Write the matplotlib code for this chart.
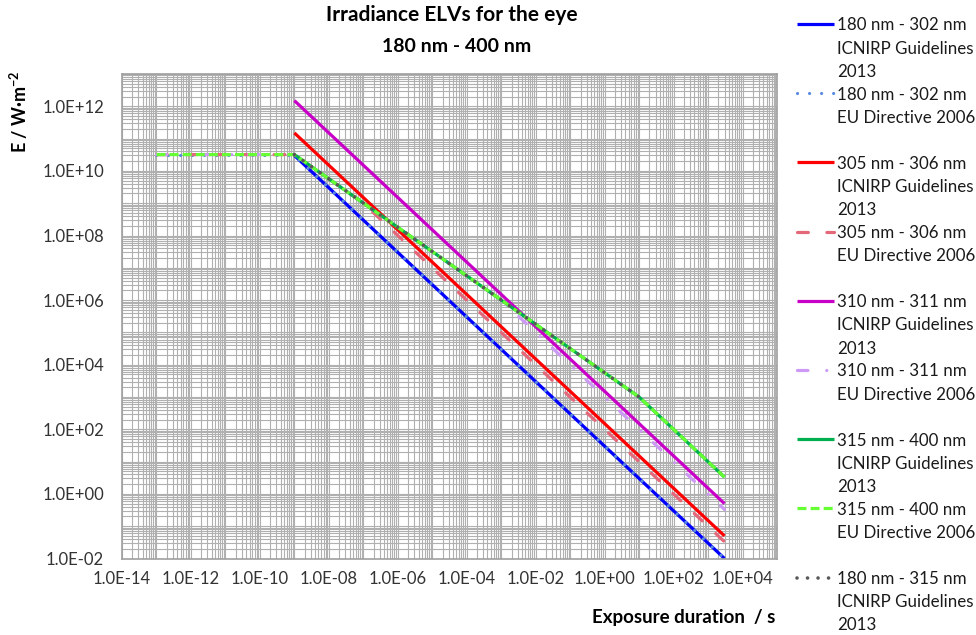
import matplotlib
matplotlib.use("Agg")
import matplotlib.pyplot as plt
from matplotlib.ticker import LogLocator, FuncFormatter, NullFormatter

plt.rcParams['font.family'] = ['Lato', 'DejaVu Sans']

# ---- data (vertices of each series) ----
t_blue_icnirp = [1e-9, 3e3]
E_blue_icnirp = [3.0e10, 1.0e-2]
t_blue_eu = [1e-13, 1e-9, 3e3]
E_blue_eu = [3.0e10, 3.0e10, 1.0e-2]

t_red_icnirp = [1e-9, 3e3]
E_red_icnirp = [1.5e11, 5.0e-2]
t_red_eu = [1e-13, 1e-9, 1e-7, 3e3]
E_red_eu = [3.2e10, 3.2e10, 1.0e9, 3.3e-2]

t_pur_icnirp = [1e-9, 3e3]
E_pur_icnirp = [1.5e12, 5.0e-1]
t_pur_eu = [1e-13, 1e-9, 1e-3, 3e3]
E_pur_eu = [3.2e10, 3.2e10, 1.0e6, 3.3e-1]

t_grn_icnirp = [1e-9, 10, 3e3]
E_grn_icnirp = [3.2e10, 1.0e3, 3.3]
t_grn_eu = [1e-13, 1e-9, 10, 3e3]
E_grn_eu = [3.2e10, 3.2e10, 1.0e3, 3.3]

t_gray_icnirp = [1e-9, 10]
E_gray_icnirp = [3.2e10, 1.0e3]

labels = [
    "180 nm - 302 nm\nICNIRP Guidelines\n2013",
    "180 nm - 302 nm\nEU Directive 2006",
    "305 nm - 306 nm\nICNIRP Guidelines\n2013",
    "305 nm - 306 nm\nEU Directive 2006",
    "310 nm - 311 nm\nICNIRP Guidelines\n2013",
    "310 nm - 311 nm\nEU Directive 2006",
    "315 nm - 400 nm\nICNIRP Guidelines\n2013",
    "315 nm - 400 nm\nEU Directive 2006",
    "180 nm - 315 nm\nICNIRP Guidelines\n2013",
]

LW = 2.3
styles = [
    dict(color='#0000ff', lw=LW, ls='-', solid_capstyle='butt'),
    dict(color='#5a8cdc', lw=LW, ls=(0, (0.01, 3.76)), dash_capstyle='round'),
    dict(color='#ff0000', lw=LW, ls='-', solid_capstyle='butt'),
    dict(color='#e5677a', lw=LW, ls=(0, (3.4, 5.8)), dash_capstyle='round'),
    dict(color='#c800c8', lw=LW, ls='-', solid_capstyle='butt'),
    dict(color='#cc99f5', lw=LW, ls=(0, (3.26, 5.9, 0.01, 5.26)), dash_capstyle='round'),
    dict(color='#00b050', lw=LW, ls='-', solid_capstyle='butt'),
    dict(color='#66ff33', lw=LW, ls=(0, (2.8, 1.3)), dash_capstyle='butt'),
    dict(color='#595959', lw=2.6, ls=(0, (0.01, 2.9)), dash_capstyle='round'),
]
series = [
    (t_blue_icnirp, E_blue_icnirp), (t_blue_eu, E_blue_eu),
    (t_red_icnirp, E_red_icnirp), (t_red_eu, E_red_eu),
    (t_pur_icnirp, E_pur_icnirp), (t_pur_eu, E_pur_eu),
    (t_grn_icnirp, E_grn_icnirp), (t_grn_eu, E_grn_eu),
    (t_gray_icnirp, E_gray_icnirp),
]

W, H = 976, 635
fig = plt.figure(figsize=(W / 100, H / 100), dpi=100)
L, R, T, B = 122, 777, 74, 558.5
ax = fig.add_axes([L / W, 1 - B / H, (R - L) / W, (B - T) / H])

for (t, E), st in zip(series, styles):
    ax.plot(t, E, **st)

ax.set_xscale('log')
ax.set_yscale('log')
ax.set_xlim(1e-14, 1e5)
ax.set_ylim(1e-2, 1e13)

ax.xaxis.set_major_locator(LogLocator(base=10, numticks=40))
ax.yaxis.set_major_locator(LogLocator(base=10, numticks=40))
ax.xaxis.set_minor_locator(LogLocator(base=10, subs=range(2, 10), numticks=40))
ax.yaxis.set_minor_locator(LogLocator(base=10, subs=range(2, 10), numticks=40))


def fmt(v, pos):
    import math
    e = int(round(math.log10(v)))
    if e % 2 != 0:
        return ''
    return f"{v:.1E}"


ax.xaxis.set_major_formatter(FuncFormatter(fmt))
ax.yaxis.set_major_formatter(FuncFormatter(fmt))
ax.xaxis.set_minor_formatter(NullFormatter())
ax.yaxis.set_minor_formatter(NullFormatter())

ax.grid(True, which='both', color='#b0b0b0', lw=0.8)
ax.set_axisbelow(True)
ax.tick_params(which='both', length=0)
ax.tick_params(axis='y', pad=13, labelsize=12, labelcolor='#333333')
ax.tick_params(axis='x', pad=9, labelsize=12, labelcolor='#333333')
for sp in ax.spines.values():
    sp.set_color('#a0a0a0')
    sp.set_linewidth(1.2)

# titles & axis labels
fig.text(452 / W, 1 - 15 / H, "Irradiance ELVs for the eye", ha='center', va='center',
         fontsize=15, fontweight='bold')
fig.text(457 / W, 1 - 47 / H, "180 nm - 400 nm", ha='center', va='center',
         fontsize=14, fontweight='bold')
fig.text(775 / W, 1 - 617 / H, "Exposure duration  / s", ha='right', va='center',
         fontsize=13.5, fontweight='bold')
fig.text(19 / W, 1 - 112 / H, "E / W·m$^{\\mathregular{-2}}$", ha='center', va='center',
         rotation=90, fontsize=13, fontweight='bold')

# legend (drawn in pixel coordinates on an overlay axes)
lax = fig.add_axes([0, 0, 1, 1])
lax.set_xlim(0, W)
lax.set_ylim(H, 0)
lax.axis('off')
for i, (lab, st) in enumerate(zip(labels, styles)):
    y = 24 + 69.2 * i
    lax.plot([797, 834], [y, y], **st)
    lax.text(837, y - 6.5, lab, ha='left', va='top', fontsize=12.2,
             linespacing=1.55, color='#1a1a1a')

fig.savefig("out.png", dpi=100)
